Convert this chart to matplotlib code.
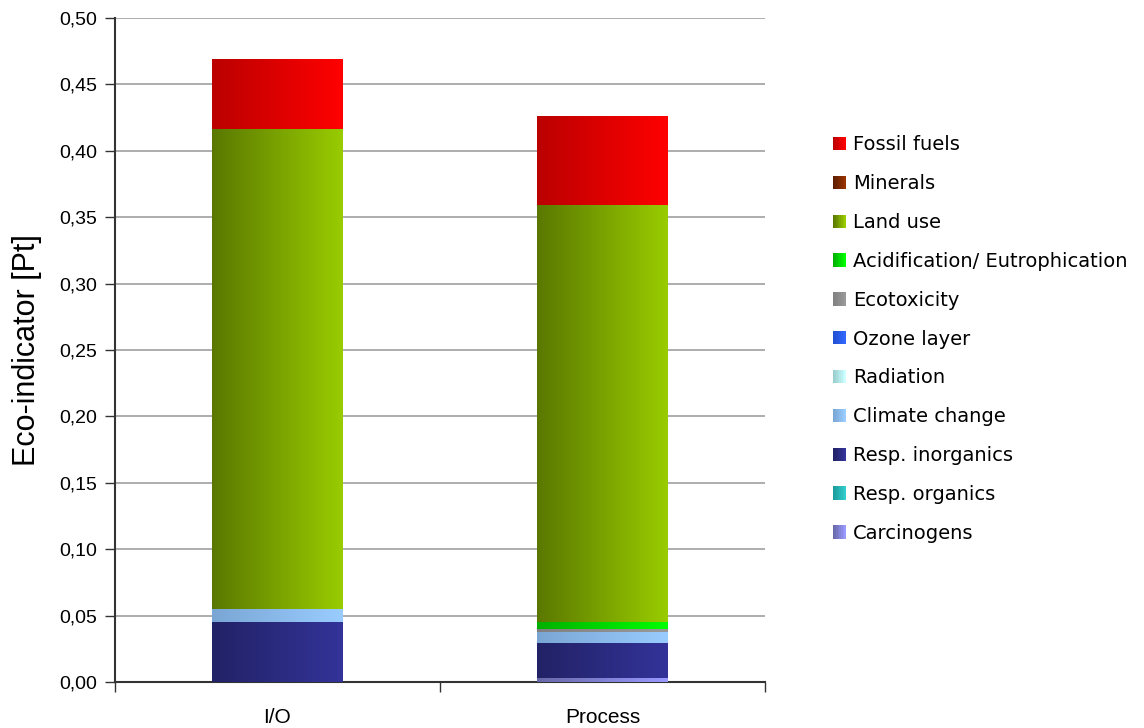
# -*- coding: utf-8 -*-

import numpy as np
import matplotlib
matplotlib.use('Agg')
import matplotlib.pyplot as plt
from matplotlib.colors import LinearSegmentedColormap, to_rgb
from matplotlib.legend_handler import HandlerBase
from matplotlib.patches import Rectangle
from matplotlib.ticker import FuncFormatter, MultipleLocator

# categories and impact values (Pt), bottom -> top
scenarios = ['I/O', 'Process']
impacts = ['Carcinogens', 'Resp. organics', 'Resp. inorganics', 'Climate change',
           'Radiation', 'Ozone layer', 'Ecotoxicity', 'Acidification/ Eutrophication',
           'Land use', 'Minerals', 'Fossil fuels']
io_vals = [0.0, 0.0, 0.0452, 0.0098, 0.0, 0.0, 0.0, 0.0, 0.3614, 0.0, 0.0520]
process_vals = [0.0030, 0.0, 0.0264, 0.0080, 0.0, 0.0, 0.0026, 0.0055, 0.3135, 0.0, 0.0665]

# gradient colours (dark left, bright right)
grad_colors = {
    'Carcinogens': ('#6868A8', '#9999FF'),
    'Resp. organics': ('#1A9A9A', '#33CCCC'),
    'Resp. inorganics': ('#222266', '#333399'),
    'Climate change': ('#7AA6D4', '#99CCFF'),
    'Radiation': ('#99CCCC', '#CCFFFF'),
    'Ozone layer': ('#2050D0', '#3366FF'),
    'Ecotoxicity': ('#808080', '#999999'),
    'Acidification/ Eutrophication': ('#00B000', '#00FF00'),
    'Land use': ('#5A7800', '#99CC00'),
    'Minerals': ('#5C1E00', '#993300'),
    'Fossil fuels': ('#BB0000', '#FF0000'),
}


class GradientHandler(HandlerBase):
    def __init__(self, c0, c1, n=8):
        super().__init__()
        self.c0 = np.array(to_rgb(c0))
        self.c1 = np.array(to_rgb(c1))
        self.n = n

    def create_artists(self, legend, orig_handle, xdescent, ydescent,
                       width, height, fontsize, trans):
        arts = []
        w = width / self.n
        for k in range(self.n):
            c = self.c0 + (self.c1 - self.c0) * k / (self.n - 1)
            r = Rectangle((-xdescent + k * w, -ydescent), w * 1.05, height,
                          facecolor=c, edgecolor='none', transform=trans)
            arts.append(r)
        return arts


fig = plt.figure(figsize=(11.44, 7.28), dpi=100)
ax = fig.add_axes([0.1005, 0.0632, 0.5682, 0.912])

data = np.array([io_vals, process_vals])
width = 0.4
for i, name in enumerate(scenarios):
    bottom = 0.0
    for j, imp in enumerate(impacts):
        v = data[i, j]
        if v > 0:
            cmap = LinearSegmentedColormap.from_list(imp, grad_colors[imp])
            grad = np.linspace(0, 1, 256).reshape(1, -1)
            ax.imshow(grad, extent=[i - width / 2, i + width / 2, bottom, bottom + v],
                      aspect='auto', cmap=cmap, zorder=3, interpolation='bilinear')
        bottom += v

ax.set_xlim(-0.5, 1.5)
ax.set_ylim(0, 0.5)
ax.set_aspect('auto')

ax.yaxis.set_major_locator(MultipleLocator(0.05))
ax.yaxis.set_major_formatter(FuncFormatter(lambda y, p: ('%.2f' % y).replace('.', ',')))
ax.grid(axis='y', color='#A0A0A0', linewidth=1.2, zorder=0)
ax.set_axisbelow(True)

ax.set_xticks(range(len(scenarios)))
ax.set_xticklabels(scenarios, fontsize=15, family='Liberation Sans')
ax.tick_params(axis='x', which='major', length=0, pad=19)
ax.set_xticks([-0.5, 0.5, 1.5], minor=True)
ax.tick_params(axis='x', which='minor', length=7, width=1, color='#333333')
ax.tick_params(axis='y', length=7, width=1, color='#333333', pad=6)
for lbl in ax.get_yticklabels():
    lbl.set_fontsize(14)
    lbl.set_family('Liberation Sans')

for s in ['top', 'right']:
    ax.spines[s].set_visible(False)
for s in ['left', 'bottom']:
    ax.spines[s].set_color('#333333')
    ax.spines[s].set_linewidth(1.5)

ax.set_ylabel('Eco-indicator [Pt]', fontsize=22, family='Liberation Sans', labelpad=12)

# legend, top -> bottom
handles = []
labels = []
hmap = {}
for imp in impacts[::-1]:
    h = Rectangle((0, 0), 1, 1)
    handles.append(h)
    labels.append(imp)
    hmap[h] = GradientHandler(*grad_colors[imp])

fig.legend(handles, labels, handler_map=hmap, loc='upper left',
           bbox_to_anchor=(0.728, 0.814), frameon=False,
           prop={'family': 'DejaVu Sans', 'size': 14},
           handlelength=0.67, handleheight=0.67, handletextpad=0.36,
           labelspacing=1.02, borderpad=0, borderaxespad=0)

plt.savefig('out.png', dpi=100)
